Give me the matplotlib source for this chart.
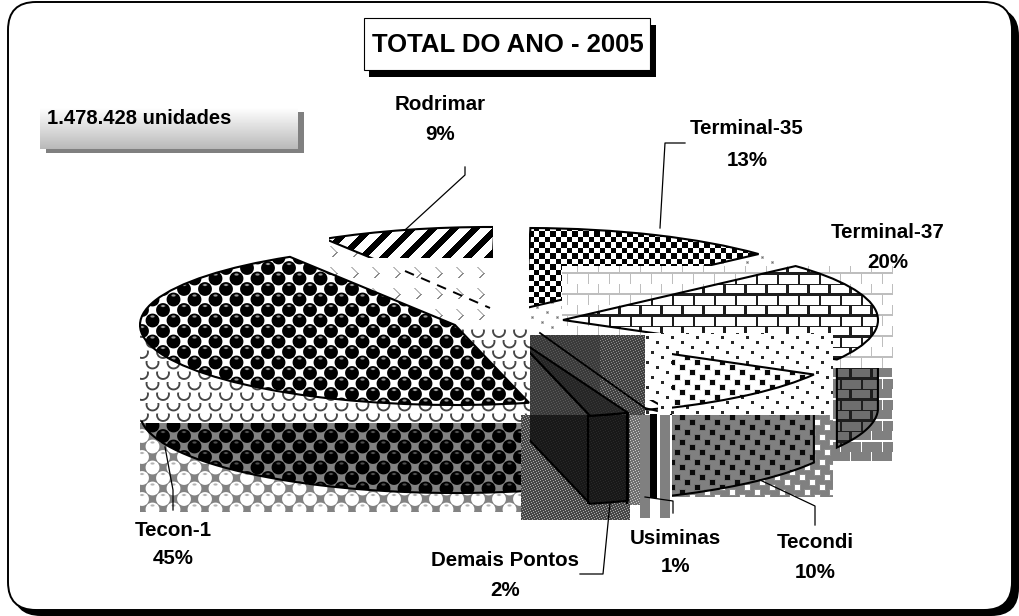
import numpy as np
import matplotlib
matplotlib.use('Agg')
from matplotlib import pyplot as plt
from matplotlib.patches import Rectangle, FancyBboxPatch, PathPatch
from matplotlib.path import Path
from matplotlib.transforms import Affine2D, Bbox, TransformedBbox
from matplotlib.lines import Line2D

# data
names = ['Rodrimar', 'Terminal-35', 'Terminal-37', 'Tecondi', 'Usiminas', 'Demais Pontos', 'Tecon-1']
percent = [9, 13, 20, 10, 1, 2, 45]
title = 'TOTAL DO ANO - 2005'
total_label = '1.478.428 unidades'

W, H = 1019, 616
RX, RY = 315.0, 80.0   # ellipse of the pie in pixels
DEPTH = 88.0

plt.rcParams['font.family'] = ['Liberation Sans', 'DejaVu Sans']
fig = plt.figure(figsize=(W / 100, H / 100), dpi=100)
ax = fig.add_axes([0, 0, 1, 1])
px = Affine2D().scale(1, -1).translate(0, H)  # picture pixels, y down
order = [10]


def nz():
    order[0] += 1
    return order[0]


def to_data(x, y):
    return x / RX, (H - y) / RY


def box(x0, y0, x1, y1):
    return TransformedBbox(Bbox.from_extents(x0, y0, x1, y1), px)


# pattern tiles, 1 = foreground
def balls(ring=False):
    P = 21
    y, x = np.mgrid[0:P, 0:P]
    out = np.zeros((P, P))
    for cx, cy in [(5, 5), (15.5, 15.5), (-5.5, 15.5), (26, 5), (5, 26), (15.5, -5.5), (26, 26), (-5.5, -5.5)]:
        d = np.hypot(x - cx, y - cy)
        m = np.clip(7.4 - d, 0, 1)
        spot = np.clip(1.6 - np.hypot((x - cx) / 1.8, y - cy + 4.0), 0, 1) * 0.6
        if ring:
            # only the lower half of each ball stays in the faded version
            m = m * np.clip(d - 4.5, 0, 1) * np.clip(y - cy + 2, 0, 1)
        out = np.maximum(out, m - spot)
    return np.clip(out, 0, 1)


def checks():
    P = 11
    y, x = np.mgrid[0:P, 0:P]
    a = ((x % P) < 5.5) == ((y % P) < 5.5)
    return a.astype(float)


def bricks(t=2):
    Pw, Ph = 21, 21
    y, x = np.mgrid[0:Ph, 0:Pw]
    out = (y % 10 < t) | ((y < 10) & (x < t)) | ((y >= 11) & (np.abs(x - 10) < t / 2 + .5))
    out[10] = out[9]
    return out.astype(float)


def dots(s=2.6):
    P = 25
    y, x = np.mgrid[0:P, 0:P]
    out = np.zeros((P, P))
    for cx, cy in [(2, 2), (12, 7), (22, 12), (7, 17), (17, 22)]:
        for ox in (-P, 0, P):
            for oy in (-P, 0, P):
                d = np.maximum(np.abs(x - cx - ox), np.abs(y - cy - oy))
                out = np.maximum(out, np.clip(s - d + .5, 0, 1))
    return out


def stripes():
    P = 21
    y, x = np.mgrid[0:P, 0:P]
    d = np.abs(((x + y) % P) - 10)
    return np.clip(5.0 - d, 0, 1)


def dashes():
    P = 21
    y, x = np.mgrid[0:P, 0:P]
    return (((x + y) % P < 2) & (y % 21 < 5)).astype(float) * 0.7 + (((x - y) % P < 2) & (y % 21 > 14)).astype(float) * 0.4


def fine():
    P = 5
    y, x = np.mgrid[0:P, 0:P]
    return ((x + 2 * y) % 5 == 0).astype(float)


def bars():
    P = 20
    y, x = np.mgrid[0:P, 0:P]
    return (x % P < 10).astype(float)


def paint(tile, bg, fg, clip=None, rect=None):
    th, tw = tile.shape
    t = np.tile(tile, (H // th + 1, W // tw + 1))[:H, :W]
    img = bg + (fg - bg) * t
    im = ax.imshow(img, cmap='gray', vmin=0, vmax=255, extent=(0, W / RX, 0, H / RY), aspect='auto',
                   interpolation='nearest', zorder=nz())
    if clip is not None:
        im.set_clip_path(clip)
    if rect is not None:
        im.set_clip_box(box(*rect))
    return im


def wall(wedge, with_side=False):
    cx, cy = wedge.center
    t1 = max(wedge.theta1, -180)
    t2 = min(wedge.theta2, 0)
    t = np.radians(np.linspace(t1, t2, 80))
    d = DEPTH / RY
    top = np.c_[cx + np.cos(t), cy + np.sin(t)]
    bottom = np.c_[cx + np.cos(t[::-1]), cy + np.sin(t[::-1]) - d]
    pts = np.vstack([top, bottom])
    if with_side:
        pts = np.vstack([[[cx, cy]], pts, [[cx, cy - d]]])
    pts = np.vstack([pts, pts[:1]])
    return PathPatch(Path(pts), transform=ax.transData, facecolor='none', edgecolor='black', linewidth=1.5,
                     zorder=1)


def show_edge(p, rect=None):
    p.set_zorder(nz())
    ax.add_patch(p)
    if rect is not None:
        p.set_clip_box(box(*rect))


def seg(xs, ys, lw=1.5, **kw):
    ax.add_line(Line2D(xs, ys, transform=px, color='black', lw=lw, zorder=nz(), **kw))


# pie only gives the slice angles, each slice is then moved to its own spot
wedges, _ = ax.pie(percent, startangle=121.6, counterclock=False, radius=1,
                   wedgeprops=dict(facecolor='none', edgecolor='black', linewidth=1.5))
ax.set_xlim(0, W / RX)
ax.set_ylim(0, H / RY)
ax.set_aspect('auto')
ax.axis('off')

rod, t35, t37, tecondi, usi, demais, tecon = wedges
rod.set_center(to_data(490, 307))
t35.set_center(to_data(526, 308))
t37.set_center(to_data(563, 320))
tecondi.set_center(to_data(540, 335))
usi.set_center(to_data(535, 335))
demais.set_center(to_data(516, 338))
tecon.set_center(to_data(455, 325))


def face(w, tile, bg, fg, rect=None):
    paint(tile, bg, fg, clip=w, rect=rect)
    edge = PathPatch(w.get_path(), transform=ax.transData, facecolor='none', edgecolor='black', linewidth=1.5)
    show_edge(edge, rect)
    w.set_visible(False)


# frame
ax.add_patch(FancyBboxPatch((13, 8), 1006, 608, boxstyle='round,pad=0,rounding_size=28', transform=px,
                            facecolor='black', edgecolor='none', zorder=1))
ax.add_patch(FancyBboxPatch((8, 2), 1004, 608, boxstyle='round,pad=0,rounding_size=28', transform=px,
                            facecolor='white', edgecolor='black', linewidth=1.4, zorder=2))

# Rodrimar
paint(dashes(), 255, 90, rect=(330, 238, 493, 323))
face(rod, stripes(), 255, 0, rect=(329, 220, 493, 258))
seg([405, 490], [271, 308], 1.4, linestyle=(0, (5, 4)))

# Terminal-35
paint(dots(1.0), 255, 110, rect=(530, 255, 776, 331))
face(t35, checks(), 255, 0, rect=(529, 220, 780, 331))

# Terminal-37
paint(bricks(1), 255, 190, rect=(562, 266, 893, 368))
face(t37, bricks(2), 255, 30)
paint(bricks(1), 128, 255, rect=(833, 368, 893, 463))
w37 = wall(t37)
paint(bricks(2), 110, 30, clip=w37, rect=(833, 368, 893, 463))
show_edge(w37, (833, 368, 893, 463))

# Tecon-1
paint(balls(True), 255, 70, rect=(140, 328, 530, 423))
paint(balls(), 130, 255, rect=(140, 423, 523, 512))
w1 = wall(tecon)
paint(balls(), 130, 0, clip=w1, rect=(140, 423, 521, 512))
show_edge(w1, (135, 421, 521, 512))
face(tecon, balls(), 255, 0)

# Tecondi
paint(dots(1.5), 255, 40, rect=(645, 333, 833, 415))
face(tecondi, dots(2.6), 255, 10, rect=(672, 340, 833, 415))
paint(dots(2.6), 128, 255, rect=(672, 415, 833, 497))
w2 = wall(tecondi)
paint(dots(2.6), 128, 10, clip=w2, rect=(672, 415, 833, 497))
show_edge(w2, (671, 415, 817, 497))
seg([671, 671], [415, 495])

# Usiminas
paint(bars(), 255, 128, rect=(640, 415, 672, 518))
paint(fine(), 110, 200, rect=(630, 415, 640, 505))
face(usi, fine(), 255, 255, rect=(640, 400, 658, 416))
paint(np.ones((2, 2)), 255, 0, rect=(650, 414, 657, 498))

# Demais Pontos
paint(fine(), 58, 90, rect=(530, 335, 600, 415))
paint(fine(), 66, 140, rect=(600, 335, 645, 415))
paint(fine(), 70, 170, rect=(521, 415, 630, 520))
w4 = wall(demais, True)
paint(fine(), 24, 40, clip=w4, rect=(530, 415, 630, 520))
paint(fine(), 44, 60, clip=w4, rect=(530, 340, 630, 415))
show_edge(w4, (530, 340, 630, 520))
face(demais, fine(), 38, 55, rect=(530, 340, 640, 420))
seg([540, 645, 657], [333, 408, 411], 1.3)
seg([588, 588], [416, 503])
seg([627, 627], [414, 503])

# titles
ax.add_patch(Rectangle((369, 25), 287, 52, transform=px, facecolor='black', edgecolor='none', zorder=nz()))
ax.add_patch(Rectangle((364, 18), 286, 52, transform=px, facecolor='white', edgecolor='black', linewidth=.8, zorder=nz()))
ax.text(508, 45, title, transform=px, ha='center', va='center', fontsize=18.5, fontweight='bold', zorder=nz())

ax.add_patch(Rectangle((46, 112), 258, 41, transform=px, facecolor='0.5', edgecolor='none', zorder=nz()))
grad = np.linspace(255, 185, 42).reshape(-1, 1)
im = ax.imshow(grad, cmap='gray', vmin=0, vmax=255, extent=(40 / RX, 298 / RX, (H - 149) / RY, (H - 107) / RY),
               aspect='auto', zorder=nz())
ax.set_xlim(0, W / RX)
ax.set_ylim(0, H / RY)
ax.text(47, 118, total_label, transform=px, ha='left', va='center', fontsize=14.6, fontweight='bold', zorder=nz())

# slice labels with their leader lines
label_pos = [(440, 105, 134), (747, 128, 160), (888, 232, 262), (815, 543, 572), (675, 538, 567), (505, 560, 590),
             (173, 530, 558)]
leaders = [([465, 465, 405], [167, 175, 230]),
           ([685, 665, 660], [143, 143, 228]),
           None,
           ([815, 815, 760], [525, 506, 480]),
           ([673, 673, 645], [513, 501, 497]),
           ([580, 603, 610], [574, 574, 503]),
           ([173, 173, 165], [510, 490, 447])]
for name, p, (x, y1, y2), lead in zip(names, percent, label_pos, leaders):
    ax.text(x, y1, name, transform=px, ha='center', va='center', fontsize=14.8, fontweight='bold', zorder=nz())
    ax.text(x, y2, '%d%%' % p, transform=px, ha='center', va='center', fontsize=14.8, fontweight='bold', zorder=nz())
    if lead is not None:
        seg(lead[0], lead[1], 0.9)

fig.savefig('out.png', dpi=100)
